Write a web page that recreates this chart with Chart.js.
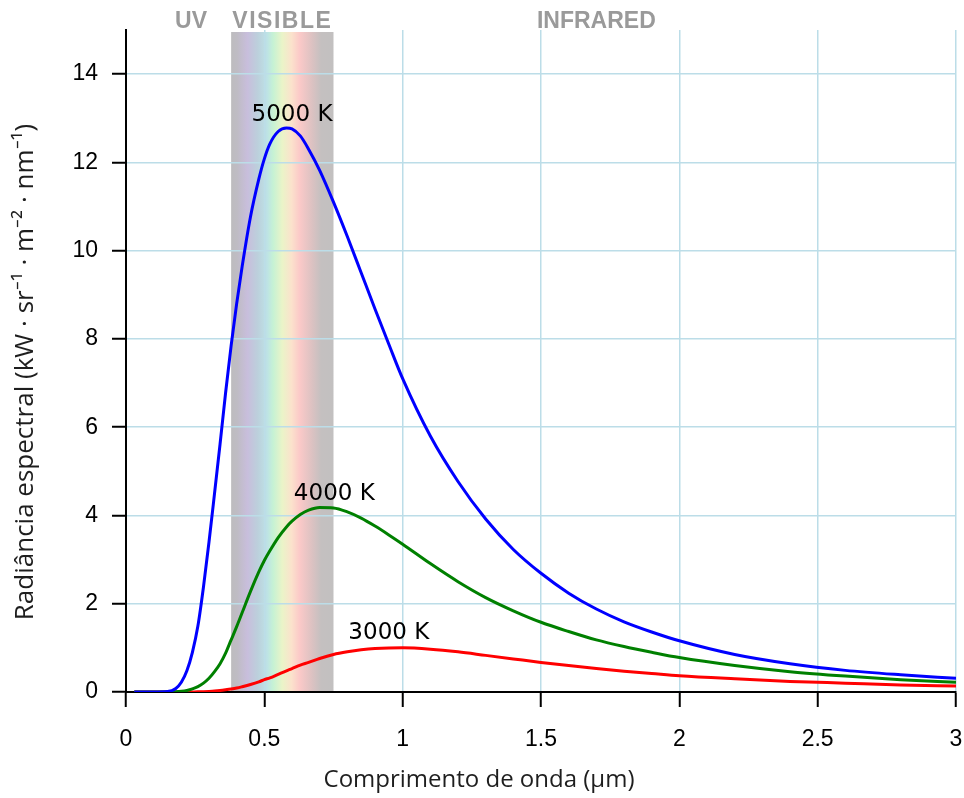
<!DOCTYPE html>
<html>
<head>
<meta charset="utf-8">
<script src="https://cdn.jsdelivr.net/npm/chart.js@4.4.1/dist/chart.umd.min.js"></script>
<style>
  html, body { margin: 0; padding: 0; background: #ffffff; }
  canvas { display: block; }
</style>
</head>
<body>
<canvas id="chart" width="964" height="798"></canvas>
<script>
// ---- data ----
const wavelengths = [0.03, 0.1, 0.15, 0.18, 0.2, 0.22, 0.24, 0.26, 0.28, 0.3, 0.32, 0.34, 0.36, 0.38, 0.4, 0.42, 0.45, 0.48, 0.5, 0.52, 0.55, 0.58, 0.6, 0.63, 0.66, 0.7, 0.75, 0.8, 0.85, 0.9, 0.95, 1.0, 1.1, 1.2, 1.3, 1.4, 1.5, 1.6, 1.7, 1.8, 1.9, 2.0, 2.2, 2.4, 2.6, 2.8, 3.0];
const radiance5000 = [0, 0, 0.01, 0.08, 0.22, 0.48, 0.9, 1.5, 2.38, 3.4, 4.5, 5.62, 6.78, 7.85, 8.8, 9.65, 10.77, 11.62, 12.08, 12.42, 12.7, 12.78, 12.76, 12.6, 12.3, 11.82, 11.1, 10.32, 9.5, 8.68, 7.88, 7.1, 5.8, 4.77, 3.92, 3.23, 2.69, 2.24, 1.88, 1.59, 1.36, 1.16, 0.85, 0.64, 0.49, 0.39, 0.31];
const radiance4000 = [0, 0, 0, 0.005, 0.015, 0.035, 0.07, 0.12, 0.2, 0.31, 0.46, 0.64, 0.88, 1.18, 1.48, 1.8, 2.28, 2.72, 2.98, 3.2, 3.5, 3.74, 3.87, 4.02, 4.12, 4.18, 4.17, 4.08, 3.94, 3.76, 3.56, 3.35, 2.91, 2.5, 2.14, 1.84, 1.58, 1.37, 1.18, 1.03, 0.9, 0.78, 0.6, 0.46, 0.36, 0.28, 0.22];
const radiance3000 = [0, 0, 0, 0, 0, 0, 0.002, 0.004, 0.008, 0.014, 0.022, 0.034, 0.05, 0.068, 0.09, 0.12, 0.17, 0.23, 0.28, 0.32, 0.4, 0.48, 0.53, 0.61, 0.67, 0.76, 0.85, 0.91, 0.955, 0.985, 0.998, 1.0, 0.97, 0.91, 0.83, 0.75, 0.67, 0.6, 0.53, 0.47, 0.42, 0.37, 0.3, 0.24, 0.2, 0.16, 0.135];

const seriesNames = ['5000 K', '4000 K', '3000 K'];
const labelX = [0.6, 0.753, 0.95];
const labelY = [12.93, 4.34, 1.21];

const xTicks = [0, 0.5, 1, 1.5, 2, 2.5, 3];
const xTickLabels = ['0', '0.5', '1', '1.5', '2', '2.5', '3'];
const yTicks = [0, 2, 4, 6, 8, 10, 12, 14];
const yTickLabels = ['0', '2', '4', '6', '8', '10', '12', '14'];

const visibleRange = [0.38, 0.75];
const regionNames = ['UV', 'VISIBLE', 'INFRARED'];
const regionCenters = [0.235, 0.565, 1.70];

const xTitle = 'Comprimento de onda (µm)';
const yTitle = 'Radiância espectral (kW · sr⁻¹ · m⁻² · nm⁻¹)';

// ---- helpers ----
function pts(ys) { return wavelengths.map((x, i) => ({ x: x, y: ys[i] })); }

const bandPlugin = {
  id: 'band',
  beforeDraw(chart) {
    const { ctx, scales: { x, y } } = chart;
    const x0 = x.getPixelForValue(visibleRange[0]);
    const x1 = x.getPixelForValue(visibleRange[1]);
    const yTop = y.getPixelForValue(y.max) + 2;
    const yBot = y.getPixelForValue(0);
    const g = ctx.createLinearGradient(x0, 0, x1, 0);
    g.addColorStop(0.00, '#bdbcbe');
    g.addColorStop(0.06, '#bfbcc4');
    g.addColorStop(0.16, '#c8bedc');
    g.addColorStop(0.26, '#bcd0dc');
    g.addColorStop(0.35, '#bde2e6');
    g.addColorStop(0.41, '#c6f2d4');
    g.addColorStop(0.50, '#eaf4c8');
    g.addColorStop(0.59, '#fbe2cc');
    g.addColorStop(0.67, '#fbc9c8');
    g.addColorStop(0.79, '#dcc2c2');
    g.addColorStop(0.88, '#c4c0c0');
    g.addColorStop(1.00, '#c2c0c0');
    ctx.save();
    ctx.fillStyle = g;
    ctx.fillRect(x0, yTop, x1 - x0, yBot - yTop);
    ctx.restore();
  }
};

const labelPlugin = {
  id: 'labels',
  afterDatasetsDraw(chart) {
    const { ctx, scales: { x, y }, chartArea } = chart;
    ctx.save();
    // curve labels
    ctx.fillStyle = '#000000';
    ctx.font = '23px "DejaVu Sans"';
    ctx.textAlign = 'center';
    ctx.textBaseline = 'alphabetic';
    seriesNames.forEach((t, i) => {
      ctx.fillText(t, x.getPixelForValue(labelX[i]), y.getPixelForValue(labelY[i]));
    });
    // region labels
    ctx.fillStyle = '#9a9a9a';
    ctx.font = 'bold 23px "Liberation Sans"';
    regionNames.forEach((t, i) => {
      ctx.letterSpacing = (t === 'VISIBLE') ? '1.5px' : '0px';
      ctx.fillText(t, x.getPixelForValue(regionCenters[i]), chartArea.top - 2);
    });
    ctx.letterSpacing = '0px';
    // axis titles
    ctx.fillStyle = '#1e1e1e';
    ctx.font = '24px "Open Sans"';
    ctx.textAlign = 'center';
    ctx.fillText(xTitle, 479, 787);
    ctx.font = '26px "Open Sans"';
    ctx.translate(33, 372);
    ctx.rotate(-Math.PI / 2);
    ctx.fillText(yTitle, 0, 0);
    ctx.restore();
  }
};

const gridColor = '#bcdde8';
const tickFont = { family: '"Liberation Sans"', size: 23 };

new Chart(document.getElementById('chart'), {
  type: 'line',
  data: {
    datasets: [
      { label: seriesNames[0], data: pts(radiance5000), borderColor: '#0000ff', borderWidth: 3 },
      { label: seriesNames[1], data: pts(radiance4000), borderColor: '#008000', borderWidth: 3 },
      { label: seriesNames[2], data: pts(radiance3000), borderColor: '#ff0000', borderWidth: 3 }
    ]
  },
  options: {
    responsive: false,
    animation: false,
    parsing: false,
    layout: { padding: { top: 30, right: 8, left: 0, bottom: 0 } },
    elements: {
      point: { radius: 0 },
      line: { cubicInterpolationMode: 'monotone', fill: false }
    },
    plugins: { legend: { display: false }, tooltip: { enabled: false } },
    scales: {
      x: {
        type: 'linear',
        min: 0, max: 3,
        afterBuildTicks: (s) => { s.ticks = xTicks.map(v => ({ value: v })); },
        afterFit: (s) => { s.height = 106; s.paddingLeft = 0; s.paddingRight = 0; },
        ticks: {
          color: '#000',
          font: tickFont,
          padding: 19,
          maxRotation: 0,
          callback: (v) => xTickLabels[xTicks.indexOf(v)]
        },
        grid: { color: gridColor, lineWidth: 1.5, tickColor: '#000', tickWidth: 2, tickLength: 15 },
        border: { color: '#000', width: 2 }
      },
      y: {
        type: 'linear',
        min: 0, max: 15,
        afterBuildTicks: (s) => { s.ticks = yTicks.map(v => ({ value: v })); },
        afterFit: (s) => { s.width = 126; s.paddingTop = 0; s.paddingBottom = 0; },
        ticks: {
          color: '#000',
          font: tickFont,
          padding: 14,
          callback: (v) => yTickLabels[yTicks.indexOf(v)]
        },
        grid: { color: gridColor, lineWidth: 1.5, tickColor: '#000', tickWidth: 2, tickLength: 14 },
        border: { color: '#000', width: 2 }
      }
    }
  },
  plugins: [bandPlugin, labelPlugin]
});
</script>
</body>
</html>
